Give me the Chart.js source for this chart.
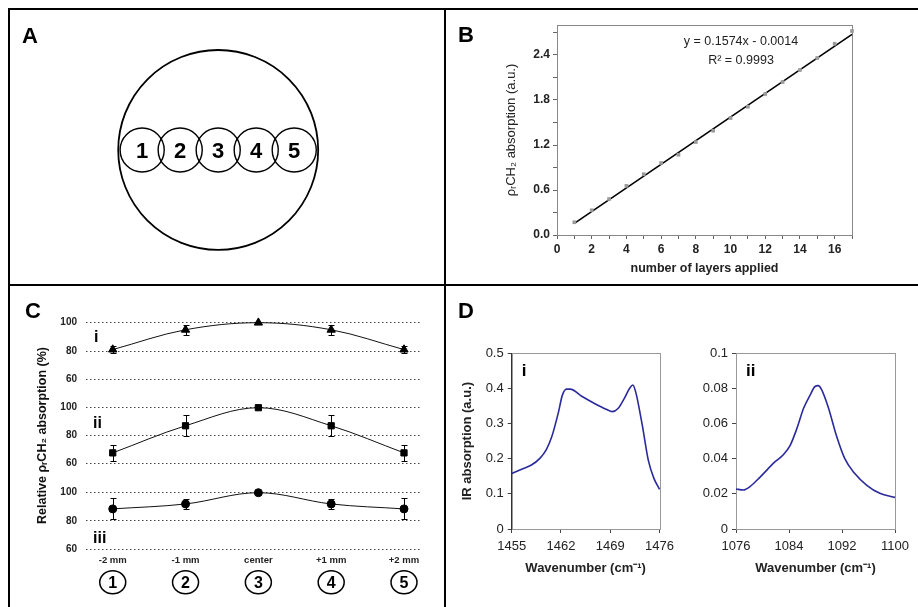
<!DOCTYPE html>
<html><head><meta charset="utf-8">
<script src="https://cdn.jsdelivr.net/npm/chart.js@4.4.0/dist/chart.umd.min.js"></script>
<style>
html,body{margin:0;padding:0;background:#fff;}
#wrap{position:relative;width:918px;height:607px;overflow:hidden;background:#fff;font-family:"Liberation Sans",Arial,sans-serif;}
.ln{position:absolute;background:#000;}
canvas{position:absolute;}
.pl{position:absolute;font-weight:bold;font-size:22px;line-height:1;color:#000;}
</style></head>
<body><div id="wrap">
<canvas id="cA" width="444" height="284" style="left:0;top:0"></canvas>
<canvas id="cB" width="468" height="275" style="left:450px;top:10px"></canvas>
<canvas id="cC1" width="434" height="320" style="left:10px;top:287px"></canvas>
<canvas id="cC2" width="434" height="320" style="left:10px;top:287px"></canvas>
<canvas id="cC3" width="434" height="320" style="left:10px;top:287px"></canvas>
<canvas id="cD1" width="230" height="320" style="left:450px;top:287px"></canvas>
<canvas id="cD2" width="238" height="320" style="left:680px;top:287px"></canvas>
<div class="ln" style="left:8px;top:8px;width:910px;height:2px"></div>
<div class="ln" style="left:8px;top:8px;width:2px;height:599px"></div>
<div class="ln" style="left:444px;top:8px;width:2px;height:599px"></div>
<div class="ln" style="left:8px;top:284px;width:910px;height:2px"></div>
<div class="pl" style="left:22px;top:25px">A</div>
<div class="pl" style="left:458px;top:24px">B</div>
<div class="pl" style="left:25px;top:300px">C</div>
<div class="pl" style="left:458px;top:300px">D</div>
</div>
<script>
// ---------- Panel A : sampling sites on the disc ----------
const siteXmm = [-2, -1, 0, 1, 2];
const siteYmm = [0, 0, 0, 0, 0];
const siteNames = ['1', '2', '3', '4', '5'];
const siteRadiusMm = 0.58;
const discXmm = [0];
const discYmm = [0];
const discRadiusMm = 2.63;

// ---------- Panel B : calibration ----------
const layersApplied = [1,2,3,4,5,6,7,8,9,10,11,12,13,14,15,16,17];
const rhoAbsorption = [0.17,0.33,0.48,0.655,0.81,0.96,1.07,1.24,1.39,1.56,1.71,1.88,2.04,2.20,2.36,2.55,2.72];
const fitLayers = [1, 17];
const fitAbsorption = [0.156, 2.674];
const fitEquation = 'y = 0.1574x - 0.0014';
const fitR2 = 'R\u00B2 = 0.9993';
const bXTickValues = [0,1,2,3,4,5,6,7,8,9,10,11,12,13,14,15,16,17];
const bXTickLabels = ['0','','2','','4','','6','','8','','10','','12','','14','','16',''];
const bYTickValues = [0,0.3,0.6,0.9,1.2,1.5,1.8,2.1,2.4,2.7];
const bYTickLabels = ['0.0','','0.6','','1.2','','1.8','','2.4',''];

// ---------- Panel C : spatial homogeneity ----------
const cPositionsMm = [-2, -1, 0, 1, 2];
const cPositionLabels = ['-2 mm', '-1 mm', 'center', '+1 mm', '+2 mm'];
const cSiteNames = ['1', '2', '3', '4', '5'];
const relI = [81, 95, 100, 95, 81];
const errI = [2.5, 3.5, 0, 3.5, 2.5];
const relII = [67.5, 87, 100, 87, 67.5];
const errII = [5.5, 7.5, 0, 7.5, 5.5];
const relIII = [88.5, 92, 100, 92, 88.5];
const errIII = [7.5, 3.8, 0, 3.8, 7.5];
const cYTicks = [60, 80, 100];

// ---------- Panel D : spectra ----------
const diWavenumber = [1455,1456.5,1457.8,1459.0,1459.9,1460.7,1461.6,1462.2,1462.8,1463.3,1465.0,1466.7,1468.4,1469.3,1470.1,1471.0,1471.8,1472.2,1472.6,1473.5,1474.4,1475.2,1476];
const diAbsorption = [0.158,0.171,0.182,0.201,0.225,0.263,0.329,0.381,0.398,0.398,0.377,0.358,0.341,0.334,0.343,0.372,0.402,0.410,0.391,0.301,0.196,0.144,0.113];
const diXTicks = [1455, 1462, 1469, 1476];
const diYTicks = [0, 0.1, 0.2, 0.3, 0.4, 0.5];
const diiWavenumber = [1076,1077.1,1078.1,1079.6,1081.9,1083.1,1084.2,1085.2,1086.2,1087.2,1087.9,1088.4,1088.9,1089.9,1091.2,1092.4,1093.9,1095.7,1097.7,1100];
const diiAbsorption = [0.0228,0.0222,0.0241,0.0294,0.0383,0.0421,0.0478,0.0573,0.0687,0.0763,0.0810,0.0816,0.0795,0.0696,0.0526,0.0402,0.0317,0.0250,0.0203,0.0180];
const diiXTicks = [1076, 1084, 1092, 1100];
const diiYTicks = [0, 0.02, 0.04, 0.06, 0.08, 0.1];

const FONT = '"Liberation Sans", Arial, sans-serif';
Chart.defaults.font.family = FONT;
Chart.defaults.color = '#222';

const base = () => ({
  responsive: false, animation: false, devicePixelRatio: 1, events: [],
  plugins: { legend: { display: false }, tooltip: { enabled: false } }
});
const setTicks = vals => (s => { s.ticks = vals.map(v => ({ value: v })); });

// ---------- A ----------
const pxPerMm = ch => Math.abs(ch.scales.x.getPixelForValue(1) - ch.scales.x.getPixelForValue(0));
const siteLabelPlugin = {
  id: 'siteLabels',
  afterDatasetsDraw(ch) {
    const ctx = ch.ctx, meta = ch.getDatasetMeta(1);
    ctx.save();
    ctx.font = 'bold 22px ' + FONT; ctx.fillStyle = '#000';
    ctx.textAlign = 'center'; ctx.textBaseline = 'alphabetic';
    meta.data.forEach((p, i) => ctx.fillText(siteNames[i], p.x, p.y + 8));
    ctx.restore();
  }
};
new Chart(document.getElementById('cA'), {
  type: 'scatter',
  data: { datasets: [
    { data: discXmm.map((x, i) => ({ x, y: discYmm[i] })), pointRadius: c => discRadiusMm * pxPerMm(c.chart),
      pointBackgroundColor: 'rgba(0,0,0,0)', pointBorderColor: '#000', pointBorderWidth: 1.8, clip: false },
    { data: siteXmm.map((x, i) => ({ x, y: siteYmm[i] })), pointRadius: c => siteRadiusMm * pxPerMm(c.chart),
      pointBackgroundColor: 'rgba(0,0,0,0)', pointBorderColor: '#000', pointBorderWidth: 1.4, clip: false }
  ]},
  options: Object.assign(base(), {
    layout: { padding: 0 },
    scales: {
      x: { display: false, min: -5.74, max: 5.94 },
      y: { display: false, min: -3.53, max: 3.95 }
    }
  }),
  plugins: [siteLabelPlugin]
});

// ---------- frame plugin ----------
const boxPlugin = color => ({
  id: 'box',
  beforeDatasetsDraw(ch) {
    const a = ch.chartArea, ctx = ch.ctx;
    ctx.save(); ctx.strokeStyle = color; ctx.lineWidth = 1;
    ctx.strokeRect(Math.round(a.left) + 0.5, Math.round(a.top) + 0.5, Math.round(a.right - a.left), Math.round(a.bottom - a.top));
    ctx.restore();
  }
});

// ---------- B ----------
const eqPlugin = {
  id: 'eq',
  afterDatasetsDraw(ch) {
    const ctx = ch.ctx, a = ch.chartArea;
    ctx.save(); ctx.font = '12.5px ' + FONT; ctx.fillStyle = '#222';
    ctx.textAlign = 'center'; ctx.textBaseline = 'middle';
    ctx.fillText(fitEquation, a.left + 184, a.top + 17);
    ctx.fillText(fitR2, a.left + 184, a.top + 36);
    ctx.restore();
  }
};
new Chart(document.getElementById('cB'), {
  type: 'scatter',
  data: { datasets: [
    { data: layersApplied.map((x, i) => ({ x, y: rhoAbsorption[i] })), pointStyle: 'rect', pointRadius: 2.6,
      pointBackgroundColor: '#9a9a9a', pointBorderColor: '#9a9a9a', pointBorderWidth: 0, clip: false },
    { data: fitLayers.map((x, i) => ({ x, y: fitAbsorption[i] })), showLine: true, pointRadius: 0,
      borderColor: '#000', borderWidth: 1.6, clip: false }
  ]},
  options: Object.assign(base(), {
    layout: { padding: { left: 0, top: 15, right: 66, bottom: 0 } },
    scales: {
      x: { type: 'linear', min: 0, max: 17, afterBuildTicks: setTicks(bXTickValues),
        afterFit: s => { s.height = 50; },
        ticks: { autoSkip: false, maxRotation: 0, callback: (v, i) => bXTickLabels[i], font: { size: 12, weight: 'bold' }, color: '#222', padding: 3 },
        grid: { drawOnChartArea: false, tickLength: 4, color: '#666' },
        border: { color: '#666' },
        title: { display: true, text: 'number of layers applied', font: { size: 12.5, weight: 'bold' }, color: '#222', padding: { top: 0, bottom: 9 } } },
      y: { min: 0, max: 2.8, afterBuildTicks: setTicks(bYTickValues),
        afterFit: s => { s.width = 107; },
        ticks: { autoSkip: false, callback: (v, i) => bYTickLabels[i], font: { size: 12, weight: 'bold' }, color: '#222', padding: 3 },
        grid: { drawOnChartArea: false, tickLength: 4, color: '#666' },
        border: { color: '#666' },
        title: { display: true, text: '\u03C1\u1D63CH\u2082 absorption (a.u.)', font: { size: 13 }, color: '#222', padding: { top: 54, bottom: 0 } } }
    }
  }),
  plugins: [boxPlugin('#888'), eqPlugin]
});

// ---------- C ----------
const errPlugin = {
  id: 'errbars',
  beforeDatasetsDraw(ch, args, opts) {
    const ctx = ch.ctx, meta = ch.getDatasetMeta(0), ys = ch.scales.y, vals = ch.data.datasets[0].data;
    ctx.save(); ctx.strokeStyle = '#000'; ctx.lineWidth = 1;
    meta.data.forEach((p, i) => {
      const e = opts.errors[i]; if (!e) return;
      const t = Math.round(ys.getPixelForValue(vals[i].y + e)) + 0.5, b = Math.round(ys.getPixelForValue(vals[i].y - e)) + 0.5;
      const x = Math.round(p.x) + 0.5;
      ctx.beginPath(); ctx.moveTo(x, t); ctx.lineTo(x, b);
      ctx.moveTo(x - 3, t); ctx.lineTo(x + 3, t); ctx.moveTo(x - 3, b); ctx.lineTo(x + 3, b); ctx.stroke();
    });
    ctx.restore();
  }
};
const tagPlugin = {
  id: 'tag',
  afterDatasetsDraw(ch, args, opts) {
    const ctx = ch.ctx, a = ch.chartArea;
    ctx.save(); ctx.font = 'bold ' + opts.size + 'px ' + FONT; ctx.fillStyle = '#000';
    ctx.textAlign = 'left'; ctx.textBaseline = 'middle';
    ctx.fillText(opts.text, a.left + opts.dx, a.top + opts.dy);
    ctx.restore();
  }
};
const circlePlugin = {
  id: 'circles',
  afterDraw(ch) {
    const ctx = ch.ctx, xs = ch.scales.x, y = ch.chartArea.bottom + 33.3;
    ctx.save(); ctx.strokeStyle = '#000'; ctx.lineWidth = 1.5; ctx.fillStyle = '#000';
    ctx.font = 'bold 16px ' + FONT; ctx.textAlign = 'center'; ctx.textBaseline = 'alphabetic';
    cPositionsMm.forEach((v, i) => {
      const x = xs.getPixelForValue(v);
      ctx.beginPath(); ctx.ellipse(x, y, 13, 11.5, 0, 0, Math.PI * 2); ctx.stroke();
      ctx.fillText(cSiteNames[i], x, y + 5.8);
    });
    ctx.restore();
  }
};
function makeC(id, vals, errs, style, rad, padTop, padBottom, showX, title, tag) {
  return new Chart(document.getElementById(id), {
    type: 'line',
    data: { datasets: [{
      data: cPositionsMm.map((x, i) => ({ x, y: vals[i] })),
      borderColor: '#111', borderWidth: 1, tension: 0.35, clip: false,
      pointStyle: style, pointRadius: rad, pointBackgroundColor: '#000', pointBorderColor: '#000', pointBorderWidth: 1
    }]},
    options: Object.assign(base(), {
      layout: { padding: { left: 0, top: padTop, right: 22.3, bottom: padBottom } },
      plugins: { legend: { display: false }, tooltip: { enabled: false }, errbars: { errors: errs }, tag: tag },
      scales: {
        x: { type: 'linear', min: -2.367, max: 2.243, display: showX,
          afterBuildTicks: setTicks(cPositionsMm),
          afterFit: s => { s.height = showX ? 58 : 0; },
          grid: { display: false, drawTicks: false }, border: { display: false },
          ticks: { autoSkip: false, maxRotation: 0, callback: (v, i) => cPositionLabels[i], font: { size: 9.5, weight: 'bold' }, color: '#222', padding: 6 } },
        y: { min: 60, max: 100, afterBuildTicks: setTicks(cYTicks),
          afterFit: s => { s.width = 76; },
          grid: { drawTicks: false, color: '#444', lineWidth: 1 },
          border: { display: false, dash: [1.5, 2.5] },
          ticks: { font: { size: 10, weight: 'bold' }, color: '#222', padding: 9 },
          title: title ? { display: true, text: title, font: { size: 12.5, weight: 'bold' }, color: '#111', padding: { top: 25, bottom: 0 } } : { display: false } }
      }
    }),
    plugins: showX ? [errPlugin, tagPlugin, circlePlugin] : [errPlugin, tagPlugin]
  });
}
makeC('cC1', relI, errI, 'triangle', 4.8, 35.7, 227.7, false, null, { text: 'i', size: 16, dx: 8, dy: 15.3 });
makeC('cC2', relII, errII, 'rect', 4.4, 120.7, 143.7, false, 'Relative \u03C1\u1D63CH\u2082 absorption (%)', { text: 'ii', size: 16, dx: 7, dy: 16 });
makeC('cC3', relIII, errIII, 'circle', 4, 205.7, 0, true, null, { text: 'iii', size: 16, dx: 7, dy: 46.3 });

// ---------- D ----------
function makeD(id, xs, ys, xt, yt, yw, padRight, ytitle, tag) {
  return new Chart(document.getElementById(id), {
    type: 'scatter',
    data: { datasets: [{
      data: xs.map((x, i) => ({ x, y: ys[i] })), showLine: true, pointRadius: 0,
      borderColor: '#2a2a9c', borderWidth: 1.6, cubicInterpolationMode: 'monotone', clip: false
    }]},
    options: Object.assign(base(), {
      layout: { padding: { left: 0, top: 66.3, right: padRight, bottom: 0 } },
      plugins: { legend: { display: false }, tooltip: { enabled: false }, tag: tag },
      scales: {
        x: { type: 'linear', min: xt[0], max: xt[xt.length - 1], afterBuildTicks: setTicks(xt),
          afterFit: s => { s.height = 78; },
          ticks: { autoSkip: false, maxRotation: 0, callback: v => String(v), font: { size: 13 }, color: '#222', padding: 6 },
          grid: { drawOnChartArea: false, tickLength: 4, color: '#444' },
          border: { color: '#333' },
          title: { display: true, text: 'Wavenumber (cm\u207B\u00B9)', font: { size: 13, weight: 'bold' }, color: '#222', padding: { top: 0, bottom: 31 } } },
        y: { min: yt[0], max: yt[yt.length - 1], afterBuildTicks: setTicks(yt),
          afterFit: s => { s.width = yw; },
          ticks: { autoSkip: false, callback: v => String(+v.toFixed(3)), font: { size: 13 }, color: '#222', padding: 4 },
          grid: { drawOnChartArea: false, tickLength: 4, color: '#444' },
          border: { color: '#333' },
          title: ytitle ? { display: true, text: ytitle, font: { size: 13, weight: 'bold' }, color: '#222', padding: { top: 10, bottom: 0 } } : { display: false } }
      }
    }),
    plugins: [boxPlugin('#999'), tagPlugin]
  });
}
makeD('cD1', diWavenumber, diAbsorption, diXTicks, diYTicks, 61.7, 4, 'IR absorption (a.u.)', { text: 'i', size: 17, dx: 10, dy: 18 });
makeD('cD2', diiWavenumber, diiAbsorption, diiXTicks, diiYTicks, 56, 23, null, { text: 'ii', size: 17, dx: 10, dy: 18 });
</script>
</body></html>
